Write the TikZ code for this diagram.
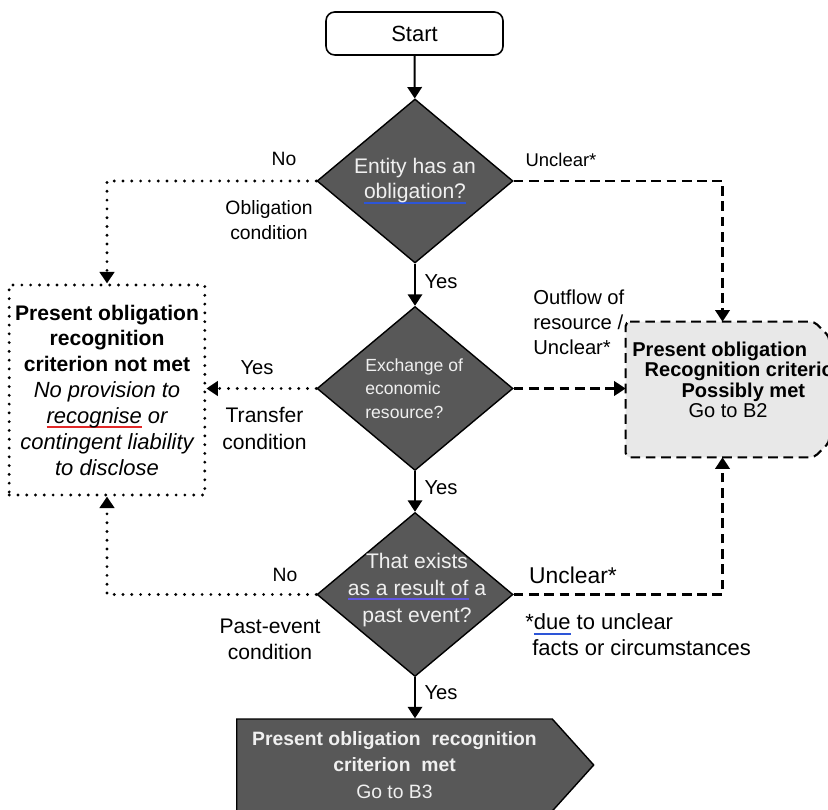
\documentclass[tikz,border=0pt]{standalone}
\usepackage{fontspec}
\setmainfont{Liberation Sans}
\usetikzlibrary{arrows.meta,shapes.geometric,shapes.symbols}
\definecolor{qfill}{RGB}{88,88,88}
\definecolor{softfill}{RGB}{232,232,232}
\definecolor{qtext}{RGB}{240,240,240}
\definecolor{ulblue}{RGB}{45,85,215}
\definecolor{ulpurple}{RGB}{95,85,225}
\definecolor{ulred}{RGB}{225,40,40}
\newcommand\fsz[2]{\fontsize{#1}{#2}\selectfont}
\newsavebox\ulbox
\newcommand\markword[2]{\sbox\ulbox{#2}\rlap{\textcolor{#1}{\rule[-2.8pt]{\wd\ulbox}{1.1pt}}}\usebox\ulbox}
\tikzset{
  flowarr/.style  = {-{Triangle[length=2.3mm,width=2.9mm]},line width=1.1pt},
  dotarr/.style   = {flowarr,line width=1.8pt,line cap=round,dash pattern=on 0pt off 5pt},
  dasharr/.style  = {flowarr,line width=1.2pt,dash pattern=on 5.5pt off 3.2pt},
  startbox/.style = {draw,rounded corners=5pt,line width=0.9pt,minimum width=177*0.02cm,
                     minimum height=43*0.02cm,font=\fsz{12.5}{15}},
  question/.style = {diamond,draw,fill=qfill,line width=0.8pt,inner sep=0pt,
                     minimum width=196*0.02cm,minimum height=164*0.02cm},
  qtext/.style    = {text=qtext,align=center,inner sep=0pt},
  lbl/.style      = {inner sep=0pt,align=center},
  nobox/.style    = {draw,line width=1.8pt,line cap=round,dash pattern=on 0pt off 5pt,
                     minimum width=190*0.02cm,minimum height=210*0.02cm,align=center,
                     font=\fsz{12}{14.7}},
  maybebox/.style = {inner sep=0pt,minimum width=203*0.02cm,minimum height=135*0.02cm},
  maybeline/.style= {draw,fill=softfill,line width=1.2pt,dash pattern=on 5.5pt off 3.2pt,
                     rounded corners=2.5pt},
  metbox/.style   = {signal,signal to=east,signal pointer angle=96,draw,fill=qfill,
                     line width=0.8pt,minimum width=357*0.02cm,minimum height=92*0.02cm,
                     text=qtext,align=center,font=\fsz{11}{15}}
}

\begin{document}
\begin{tikzpicture}[x=0.02cm,y=-0.02cm]
  \useasboundingbox (0,0) rectangle (828,810);
  \clip (0,0) rectangle (828,810);
  \node[startbox] (start) at (414.5,33.5) {Start};

  \node[question] (q1) at (415,181) {};
  \node[qtext,font=\fsz{12}{14.2}] (q1t) at (415,181)
       {Entity has an\\\markword{ulblue}{obligation?}};
  \node[question] (q2) at (415,388.5) {};
  \node[qtext,align=left,anchor=west,font=\fsz{10}{13.3}] (q2t) at (365,388.5)
       {Exchange of\\economic\\resource?};
  \node[question] (q3) at (415,594.5) {};
  \node[qtext,font=\fsz{12}{15.3}] (q3t) at (417,590)
       {That exists\\\markword{ulpurple}{as a result of} a\\past event?};

  \node[nobox] (nomet) at (107,390)
       {\textbf{Present obligation}\\\textbf{recognition}\\\textbf{criterion not met}\\
        \fsz{12.5}{14.7}\itshape No provision to\\
        \fsz{12.5}{14.7}\itshape \markword{ulred}{recognise} or\\
        \fsz{12.5}{14.7}\itshape contingent liability\\
        \fsz{12.5}{14.7}\itshape to disclose};
  % grey box with the two right corners cut off
  \node[maybebox] (maybe) at (727.5,389.5) {};
  \path[maybeline] (maybe.north west) -- ([xshift=-0.3cm]maybe.north east)
        -- ([yshift=-0.3cm]maybe.north east) -- ([yshift=0.3cm]maybe.south east)
        -- ([xshift=-0.3cm]maybe.south east) -- (maybe.south west) -- cycle;
  \node[lbl,align=left,anchor=west,font=\fsz{11.4}{11.6}] (maybet) at (632,380)
       {\textbf{Present obligation}\\
        \hspace*{7pt}\textbf{Recognition criterion}\\
        \hspace*{28pt}\textbf{Possibly met}\\
        \hspace*{32pt}Go to B2};
  \node[metbox,anchor=west] (met) at (236,765)
       {\textbf{Present obligation\ \ recognition}\\\textbf{criterion\ \ met}\\Go to B3};

  % connectors
  \draw[flowarr] (start) -- (q1);
  \draw[dotarr] (q1.west) -| (nomet.north);
  \draw[dasharr] (q1.east) -| ([xshift=-0.1cm]maybe.north);
  \draw[flowarr] (q1) -- (q2);
  \draw[dotarr] (q2.west) -- (q2.west -| nomet.east);
  \draw[dasharr] (q2.east) -- (q2.east -| maybe.west);
  \draw[flowarr] (q2) -- (q3);
  \draw[dotarr] (q3.west) -| (nomet.south);
  \draw[dasharr] (q3.east) -| ([xshift=-0.1cm]maybe.south);
  \draw[flowarr] (q3) -- (q3 |- met.north);

  % labels on the branches
  \node[lbl,font=\fsz{11}{13}] (no1) at (284,159) {No};
  \node[lbl,font=\fsz{11}{14.2}] (cond1) at (269,220.5) {Obligation\\condition};
  \node[lbl,font=\fsz{10.5}{13}] (unc1) at (561,160) {Unclear*};
  \node[lbl,font=\fsz{11.5}{13}] (yes1) at (441,282) {Yes};
  \node[lbl,font=\fsz{11.5}{13}] (yes2) at (257,368) {Yes};
  \node[lbl,font=\fsz{12}{15}] (cond2) at (264.5,428.5) {Transfer\\condition};
  \node[lbl,align=left,anchor=west,font=\fsz{11.5}{14.2}] (outfl) at (533,322)
       {Outflow of\\resource /\\Unclear*};
  \node[lbl,font=\fsz{11.5}{13}] (yes3) at (441,488) {Yes};
  \node[lbl,font=\fsz{11}{13}] (no3) at (285,575) {No};
  \node[lbl,font=\fsz{12}{14.7}] (cond3) at (270,639) {Past-event\\condition};
  \node[lbl,font=\fsz{13}{15}] (unc3) at (573,575) {Unclear*};
  \node[lbl,align=left,anchor=west,font=\fsz{12.5}{14.7}] (note) at (525,635)
       {*\markword{ulblue}{due} to unclear\\\hspace*{4pt}facts or circumstances};
  \node[lbl,font=\fsz{11.5}{13}] (yes4) at (441,693) {Yes};
\end{tikzpicture}
\end{document}
